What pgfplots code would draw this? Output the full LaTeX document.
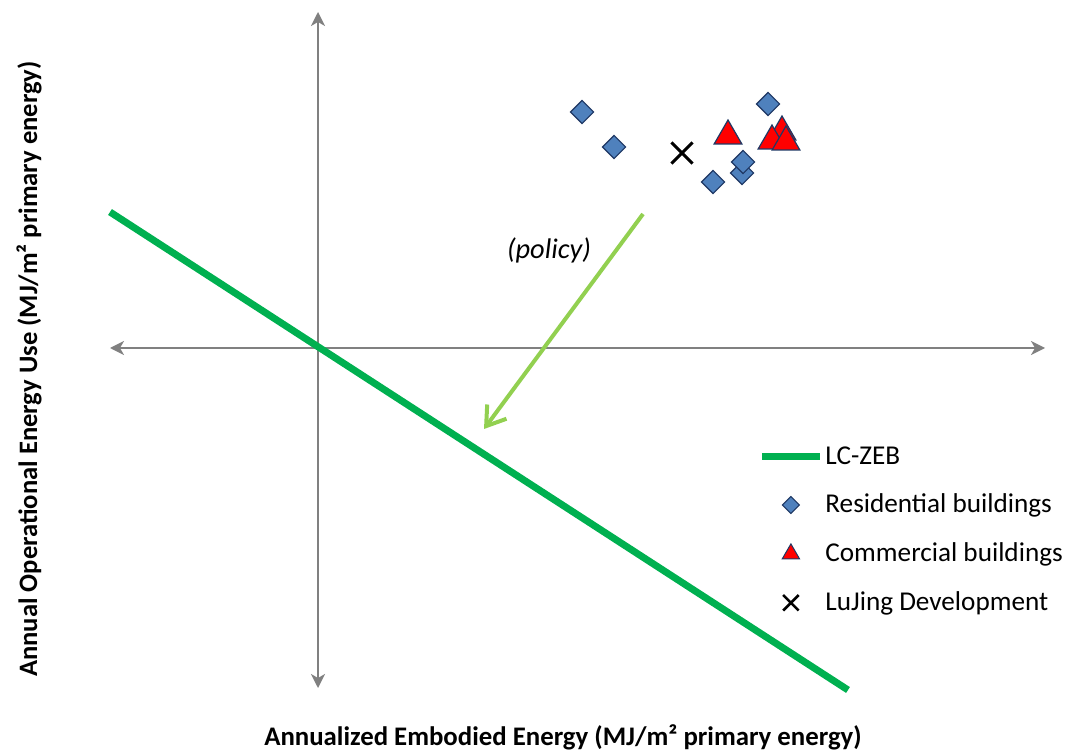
\documentclass[border=0pt]{standalone}
\usepackage{pgfplots}
\pgfplotsset{compat=1.18}
\usepackage{fontspec}
\setmainfont{Carlito}
\usetikzlibrary{arrows.meta}
\definecolor{zebgreen}{HTML}{00B050}
\definecolor{polgreen}{HTML}{92D050}
\definecolor{resblue}{HTML}{4F81BD}
\definecolor{navy}{HTML}{1F3864}
\definecolor{axgray}{HTML}{808080}
\pgfplotsset{
  zeblegend/.style={legend image code/.code={\draw[##1] (0pt,0pt) -- (29pt,0pt);}},
  marklegend/.style={legend image code/.code={\path[##1] plot coordinates {(14.5pt,0pt)};}},
}
\begin{document}
\begin{tikzpicture}
\begin{axis}[
  x=0.5pt, y=0.5pt, scale only axis,
  xmin=0, xmax=1065, ymin=0, ymax=750,
  hide axis, clip=false,
  legend style={overlay, draw=none, fill=none, at={(axis cs:752,310)}, anchor=north west,
    font=\fontsize{13.6}{15}\selectfont, row sep=11.5pt, column sep=0pt,
    nodes={inner xsep=1pt, inner ysep=1pt}},
  legend cell align=left,
]
\path (axis cs:0,0) rectangle (axis cs:1065,750);
% axes arrows
\addplot[axgray, line width=0.9pt, {Stealth[length=7pt,width=7pt,inset=2pt]}-{Stealth[length=7pt,width=7pt,inset=2pt]}, forget plot]
  coordinates {(110,402) (1045,402)};
\addplot[axgray, line width=0.9pt, {Stealth[length=7pt,width=7pt,inset=2pt]}-{Stealth[length=7pt,width=7pt,inset=2pt]}, forget plot]
  coordinates {(318,738) (318,62)};
% LC-ZEB line
\addplot[zebgreen, line width=3.5pt, forget plot] coordinates {(110,538) (848,60)};
% policy arrow
\addplot[polgreen, line width=2pt, -{Straight Barb[length=9pt,width=12pt]}, forget plot]
  coordinates {(643,536) (484,321)};
\node[font=\itshape\fontsize{14.2}{16}\selectfont] at (axis cs:549,500) {(policy)};
% residential
\addplot[only marks, mark=square*, mark size=4.1pt, mark options={rotate=45, fill=resblue, draw=navy, line width=0.6pt}, forget plot]
  coordinates {(582,638) (614,603) (768,646) (742,577) (743,588) (713,568)};
% commercial
\addplot[only marks, mark=triangle*, mark size=8pt, mark options={fill=red, draw=navy, line width=0.6pt}, forget plot]
  coordinates {(728,614) (782,618) (772,609) (786,608)};
% LuJing
\addplot[only marks, mark=x, mark size=7.5pt, mark options={draw=black, line width=1.5pt}, forget plot]
  coordinates {(682,597)};
% labels
\node[overlay, inner sep=0pt, rotate=90, font=\bfseries\fontsize{13.3}{15}\selectfont] at (axis cs:29,381) {Annual Operational Energy Use (MJ/m² primary energy)};
\node[overlay, inner sep=0pt, font=\bfseries\fontsize{13.4}{15}\selectfont] at (axis cs:563,13) {Annualized Embodied Energy (MJ/m² primary energy)};
% legend
\addlegendimage{zebgreen, line width=3.5pt, zeblegend}
\addlegendentry{LC-ZEB}
\addlegendimage{only marks, mark=square*, mark size=3pt, mark options={rotate=45, fill=resblue, draw=navy, line width=0.5pt}, marklegend}
\addlegendentry{Residential buildings}
\addlegendimage{only marks, mark=triangle*, mark size=5pt, mark options={fill=red, draw=navy, line width=0.5pt}, marklegend}
\addlegendentry{Commercial buildings}
\addlegendimage{only marks, mark=x, mark size=5.5pt, mark options={draw=black, line width=1.3pt}, marklegend}
\addlegendentry{LuJing Development}
\end{axis}
\end{tikzpicture}
\end{document}
